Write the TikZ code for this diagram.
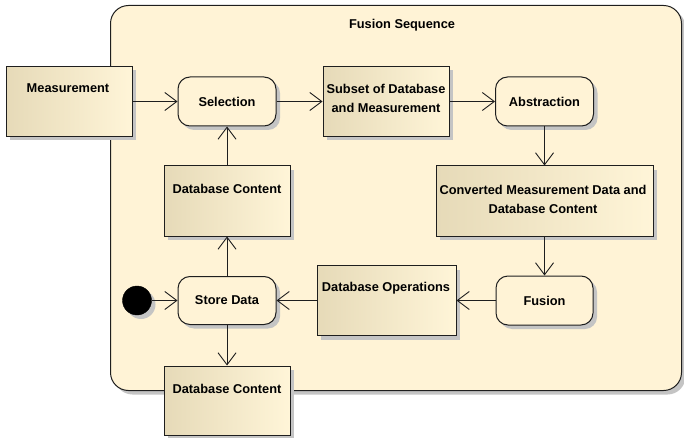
\documentclass[tikz,border=0pt]{standalone}
\usepackage{fontspec}
\setmainfont{Liberation Sans}
\usetikzlibrary{arrows.meta,shadows}
\definecolor{bgc}{RGB}{255,243,214}
\definecolor{objL}{RGB}{230,218,184}
\definecolor{objR}{RGB}{255,245,216}
\definecolor{shd}{RGB}{196,196,196}
\definecolor{edgec}{RGB}{30,30,30}
\begin{document}
\begin{tikzpicture}[x=1pt,y=-1pt,
  shad/.style={drop shadow={shadow xshift=4pt,shadow yshift=-4pt,fill=shd,opacity=1}},
  container/.style={draw=edgec,line width=1pt,fill=bgc,rounded corners=18pt,shad,inner sep=0pt,anchor=north west},
  obj/.style={draw=edgec,line width=1pt,left color=objL,right color=objR,shad,inner sep=0pt},
  act/.style={draw=edgec,line width=1pt,fill=bgc,rounded corners=12pt,shad,inner sep=0pt,
    font=\bfseries\fontsize{12.8}{19}\selectfont},
  lbl/.style={font=\bfseries\fontsize{12.8}{19}\selectfont,align=center,inner sep=0pt},
  initnode/.style={circle,fill=black,draw=black,minimum size=29pt,inner sep=0pt,shad},
  flow/.style={draw=edgec,line width=0.9pt,-{Straight Barb[length=12pt,width=18pt,line width=0.9pt]}}]
\useasboundingbox (0,0) rectangle (684,438);
% container
\node[container,minimum width=571pt,minimum height=385pt] (seq) at (110,5) {};
\node[lbl] (seqt) at (402,25.5) {Fusion Sequence};
% object nodes
\node[obj,minimum width=126pt,minimum height=70pt] (meas) at (69,101.5) {};
\node[lbl] (meast) at (68,88.5) {Measurement};
\node[obj,minimum width=126pt,minimum height=70pt] (sub) at (386,101.5) {};
\node[lbl] (subt) at (386,98) {Subset of Database\\and Measurement};
\node[obj,minimum width=217pt,minimum height=70pt] (conv) at (544.5,201) {};
\node[lbl] (convt) at (543,199) {Converted Measurement Data and\\Database Content};
\node[obj,minimum width=139pt,minimum height=70pt] (dbop) at (386.5,300.5) {};
\node[lbl] (dbopt) at (386,288) {Database Operations};
\node[obj,minimum width=126pt,minimum height=70pt] (dbm) at (227,201) {};
\node[lbl] (dbmt) at (227,188.5) {Database Content};
\node[obj,minimum width=126pt,minimum height=69pt] (dbb) at (227,400.5) {};
\node[lbl] (dbbt) at (227,388.5) {Database Content};
% actions
\node[act,minimum width=98pt,minimum height=49pt] (sel) at (227,101.5) {Selection};
\node[act,minimum width=98pt,minimum height=49pt] (abs) at (544.5,101.5) {Abstraction};
\node[act,minimum width=97pt,minimum height=49pt] (fus) at (544.5,300.5) {Fusion};
\node[act,minimum width=98pt,minimum height=48pt] (store) at (227,300.5) {Store Data};
\node[initnode] (init) at (137,300.5) {};
% flows
\draw[flow] (meas) -- (sel);
\draw[flow] (sel) -- (sub);
\draw[flow] (sub) -- (abs);
\draw[flow] (abs) -- (conv);
\draw[flow] (conv) -- (fus);
\draw[flow] (fus) -- (dbop);
\draw[flow] (dbop) -- (store);
\draw[flow] (init) -- (store);
\draw[flow] (store) -- (dbb);
\draw[flow] (store) -- (dbm);
\draw[flow] (dbm) -- (sel);
\end{tikzpicture}
\end{document}
